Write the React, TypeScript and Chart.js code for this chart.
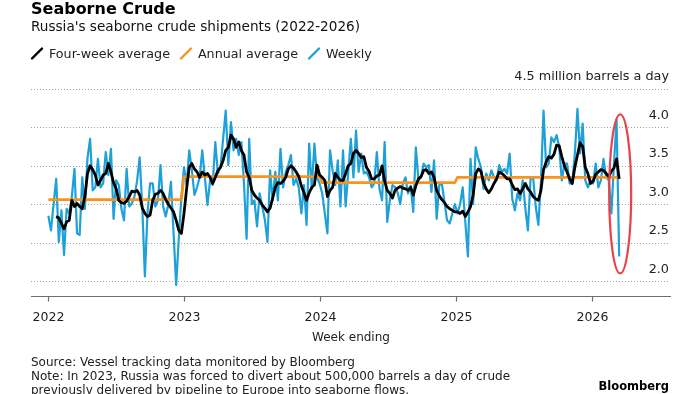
import React, { useEffect, useRef } from 'react';
import { Chart, registerables } from 'chart.js';

Chart.register(...registerables);

// ---- Data ----
const firstWeekEnding = { year: 2022, month: 0, day: 2 };
const years = [2022, 2023, 2024, 2025, 2026];
const annualAverage = [3.06, 3.36, 3.28, 3.35, 3.35];
const yTicks = [2.0, 2.5, 3.0, 3.5, 4.0];
const yTopTick = 4.5;
const unitLabel = '4.5 million barrels a day';

const weekly = [
  2.85, 2.66, 3.0, 3.33, 2.51, 2.92, 2.34, 2.94, 2.88, 3.1,
  3.46, 2.62, 2.6, 3.35, 2.94, 3.6, 3.85, 3.18, 3.22, 3.59,
  3.22, 3.27, 3.68, 3.38, 3.72, 2.81, 3.31, 3.25, 2.94, 2.79,
  3.46, 2.97, 3.01, 3.1, 3.3, 3.61, 2.97, 2.06, 2.88, 3.27,
  3.27, 2.97, 3.05, 3.51, 2.97, 2.84, 3.0, 3.29, 2.62, 1.95,
  2.55, 3.1, 3.48, 3.25, 3.7, 3.45, 3.12, 3.22, 3.35, 3.7,
  3.35, 2.99, 3.31, 3.25, 3.81, 3.4, 3.48, 3.85, 4.22, 3.51,
  4.07, 3.7, 3.85, 3.64, 3.81, 3.27, 2.55, 3.85, 3.0, 3.05,
  2.71, 3.14, 2.97, 2.8, 2.51, 3.44, 3.05, 3.42, 3.05, 3.72,
  3.22, 3.42, 3.51, 3.64, 3.25, 3.33, 3.22, 2.88, 3.25, 2.73,
  3.79, 3.2, 3.79, 3.35, 3.27, 3.14, 2.88, 2.62, 3.7, 3.44,
  3.25, 3.57, 2.97, 3.7, 2.97, 3.42, 3.85, 3.35, 3.96, 3.42,
  3.66, 3.4, 3.42, 3.35, 3.22, 3.27, 3.68, 3.2, 3.05, 3.81,
  2.77, 3.05, 3.25, 3.22, 3.15, 3.0, 3.27, 3.35, 3.14, 3.24,
  2.9, 3.74, 3.31, 3.35, 3.53, 3.48, 3.51, 3.16, 3.57, 2.81,
  3.25, 3.27, 3.03, 2.79, 2.75, 2.88, 3.0, 2.88, 3.0, 3.22,
  2.77, 2.32, 3.59, 3.0, 3.74, 3.59, 3.48, 3.2, 3.4, 3.31,
  3.44, 3.35, 3.31, 3.51, 3.42, 3.46, 3.4, 3.66, 3.07, 2.92,
  3.14, 3.05, 3.31, 2.95, 2.66, 3.33, 3.35, 2.97, 2.73, 3.29,
  4.22, 3.48, 3.53, 3.87, 3.81, 3.9, 3.75, 3.31, 3.53, 3.53,
  3.27, 3.27, 3.66, 4.24, 3.66, 4.05, 3.31, 3.22, 3.31, 3.27,
  3.53, 3.22, 3.31, 3.59, 3.35, 3.31, 2.88, 3.53, 4.1, 2.32,
];

const fourWeekAverage = [
  null, null, null, 2.84, 2.82, 2.75, 2.68, 2.77, 2.79, 3.05,
  2.97, 3.01, 2.97, 2.94, 3.1, 3.4, 3.5, 3.45, 3.38, 3.25,
  3.31, 3.38, 3.4, 3.53, 3.42, 3.28, 3.2, 3.05, 3.02, 3.01,
  3.04, 3.1, 3.17, 3.16, 3.18, 3.12, 2.95, 2.88, 2.84, 2.86,
  3.05, 3.13, 3.14, 3.18, 3.14, 3.06, 3.0, 2.95, 2.9, 2.79,
  2.66, 2.62, 2.88, 3.2, 3.48, 3.53, 3.46, 3.42, 3.35, 3.42,
  3.38, 3.4, 3.35, 3.27, 3.35, 3.44, 3.48, 3.57, 3.7, 3.74,
  3.9, 3.85, 3.74, 3.81, 3.7, 3.64, 3.42, 3.35, 3.18, 3.12,
  3.08, 3.05, 2.99, 2.95, 2.9, 2.95, 3.08, 3.22, 3.28, 3.27,
  3.3, 3.35, 3.46, 3.5, 3.47, 3.42, 3.36, 3.24, 3.15, 3.05,
  3.15, 3.22, 3.25, 3.51, 3.38, 3.35, 3.31, 3.1, 3.18, 3.22,
  3.4, 3.35, 3.31, 3.31, 3.4, 3.5, 3.53, 3.66, 3.7, 3.66,
  3.61, 3.62, 3.48, 3.43, 3.33, 3.33, 3.37, 3.38, 3.5, 3.3,
  3.18, 3.14, 3.08, 3.18, 3.21, 3.23, 3.21, 3.2, 3.18, 3.22,
  3.12, 3.24, 3.33, 3.36, 3.44, 3.45, 3.4, 3.42, 3.35, 3.18,
  3.11, 3.06, 3.02, 2.97, 2.94, 2.92, 2.9, 2.9, 2.88, 2.91,
  2.84, 2.9, 2.97, 3.12, 3.4, 3.46, 3.43, 3.28, 3.2, 3.15,
  3.2, 3.27, 3.33, 3.42, 3.4, 3.37, 3.33, 3.33, 3.25, 3.19,
  3.2, 3.14, 3.2, 3.27, 3.2, 3.16, 3.1, 3.07, 3.05, 3.18,
  3.45, 3.55, 3.62, 3.6, 3.65, 3.77, 3.76, 3.62, 3.5, 3.42,
  3.33, 3.27, 3.48, 3.64, 3.8, 3.75, 3.48, 3.4, 3.27, 3.3,
  3.39, 3.42, 3.45, 3.44, 3.4, 3.36, 3.43, 3.47, 3.59, 3.33,
];

const legendItems = [
  { label: 'Four-week average', color: '#000000' },
  { label: 'Annual average', color: '#f7931e' },
  { label: 'Weekly', color: '#1ea0d8' },
];

const titleText = 'Seaborne Crude';
const subtitleText = "Russia's seaborne crude shipments (2022-2026)";
const xTitle = 'Week ending';
const footerLines = [
  'Source: Vessel tracking data monitored by Bloomberg',
  'Note: In 2023, Russia was forced to divert about 500,000 barrels a day of crude',
  'previously delivered by pipeline to Europe into seaborne flows.',
];
const brand = 'Bloomberg';

// ---- helpers ----
function weekDate(i: number) {
  return new Date(firstWeekEnding.year, firstWeekEnding.month, firstWeekEnding.day + 7 * i);
}
function decimalYear(d: Date) {
  const y = d.getFullYear();
  const s = new Date(y, 0, 1).getTime();
  const e = new Date(y + 1, 0, 1).getTime();
  return y + (d.getTime() - s) / (e - s);
}

const FONT = '"DejaVu Sans", "Noto Sans", sans-serif';

const overlayPlugin = {
  id: 'overlay',
  beforeDatasetsDraw(chart: any) {
    const { ctx, chartArea, scales } = chart;
    const y = scales.y;
    ctx.save();
    ctx.strokeStyle = '#a0a0a0';
    ctx.lineWidth = 1;
    ctx.setLineDash([1, 2]);
    [...yTicks, yTopTick].forEach((v) => {
      const py = Math.round(y.getPixelForValue(v)) + 0.5;
      ctx.beginPath();
      ctx.moveTo(chartArea.left, py);
      ctx.lineTo(chartArea.right - 1, py);
      ctx.stroke();
    });
    ctx.restore();
  },
  afterDatasetsDraw(chart: any) {
    const { ctx, chartArea, scales } = chart;
    const x = scales.x;
    const y = scales.y;
    ctx.save();

    // x axis
    const axisY = Math.round(chartArea.bottom) + 0.5;
    ctx.strokeStyle = '#6e6e6e';
    ctx.lineWidth = 1.2;
    ctx.beginPath();
    ctx.moveTo(chartArea.left, axisY);
    ctx.lineTo(chartArea.right, axisY);
    ctx.stroke();
    ctx.fillStyle = '#222';
    ctx.font = `12.5px ${FONT}`;
    ctx.textAlign = 'center';
    ctx.textBaseline = 'alphabetic';
    years.forEach((yr) => {
      const px = Math.round(x.getPixelForValue(yr)) + 0.5;
      ctx.beginPath();
      ctx.moveTo(px, axisY);
      ctx.lineTo(px, axisY + 5);
      ctx.stroke();
      ctx.fillText(String(yr), px, 321);
    });
    ctx.font = `12px ${FONT}`;
    ctx.fillText(xTitle, (chartArea.left + chartArea.right) / 2, 341);

    // y labels (above gridlines, right side)
    ctx.textAlign = 'right';
    ctx.font = `12.8px ${FONT}`;
    yTicks.forEach((v) => {
      ctx.fillText(v.toFixed(1), chartArea.right - 2, y.getPixelForValue(v) - 8.5);
    });
    ctx.fillText(unitLabel, chartArea.right - 2, y.getPixelForValue(yTopTick) - 9.5);

    // title & subtitle
    ctx.textAlign = 'left';
    ctx.fillStyle = '#000';
    ctx.font = `bold 16px ${FONT}`;
    ctx.fillText(titleText, 31, 13.5);
    ctx.fillStyle = '#111';
    ctx.font = `13.6px ${FONT}`;
    ctx.fillText(subtitleText, 31, 31);

    // legend
    ctx.font = `12.7px ${FONT}`;
    let lx = 32;
    legendItems.forEach((it) => {
      ctx.strokeStyle = it.color;
      ctx.lineWidth = 2.4;
      ctx.lineCap = 'round';
      ctx.beginPath();
      ctx.moveTo(lx, 58.5);
      ctx.lineTo(lx + 10, 48.5);
      ctx.stroke();
      ctx.fillStyle = '#222';
      ctx.fillText(it.label, lx + 17, 57.5);
      lx += 17 + ctx.measureText(it.label).width + 11;
    });

    // footer
    ctx.fillStyle = '#222';
    ctx.font = `12px ${FONT}`;
    footerLines.forEach((line, i) => {
      ctx.fillText(line, 31, 366 + i * 14);
    });
    ctx.textAlign = 'right';
    ctx.fillStyle = '#000';
    ctx.font = `bold 11.5px ${FONT}`;
    ctx.fillText(brand, 669, 389.5);

    // highlight ellipse around the latest weeks
    const last = weekly.length - 1;
    const cx = x.getPixelForValue(decimalYear(weekDate(last)));
    const top = y.getPixelForValue(4.17);
    const bottom = y.getPixelForValue(2.1);
    ctx.strokeStyle = '#e8424b';
    ctx.lineWidth = 2.2;
    ctx.beginPath();
    ctx.ellipse(cx + 1, (top + bottom) / 2, 11, (bottom - top) / 2, 0, 0, Math.PI * 2);
    ctx.stroke();

    ctx.restore();
  },
};

export default function App() {
  const canvasRef = useRef<HTMLCanvasElement | null>(null);

  useEffect(() => {
    document.body.style.margin = '0';
    const canvas = canvasRef.current;
    if (!canvas) return;

    const xs = weekly.map((_, i) => decimalYear(weekDate(i)));
    const weeklyPts = weekly.map((v, i) => ({ x: xs[i], y: v }));
    const fourPts = fourWeekAverage.map((v, i) => ({ x: xs[i], y: v }));
    const annualPts = weekly.map((_, i) => {
      const yr = weekDate(i).getFullYear();
      return { x: xs[i], y: annualAverage[years.indexOf(yr)] };
    });

    const chart = new Chart(canvas, {
      type: 'line',
      data: {
        datasets: [
          {
            label: legendItems[0].label,
            data: fourPts,
            borderColor: legendItems[0].color,
            borderWidth: 2.8,
            pointRadius: 0,
            tension: 0,
            borderJoinStyle: 'round',
            spanGaps: false,
          },
          {
            label: legendItems[1].label,
            data: annualPts,
            borderColor: legendItems[1].color,
            borderWidth: 2.8,
            pointRadius: 0,
            tension: 0,
            borderJoinStyle: 'round',
          },
          {
            label: legendItems[2].label,
            data: weeklyPts,
            borderColor: legendItems[2].color,
            borderWidth: 2.2,
            pointRadius: 0,
            tension: 0,
            borderJoinStyle: 'round',
          },
        ],
      } as any,
      options: {
        responsive: false,
        animation: false,
        devicePixelRatio: 1,
        parsing: false,
        normalized: true,
        layout: { padding: { left: 31, right: 29, top: 89, bottom: 98 } },
        plugins: {
          legend: { display: false },
          tooltip: { enabled: false },
          title: { display: false },
        },
        scales: {
          x: { type: 'linear', display: false, min: 2021.875, max: 2026.581 },
          y: { type: 'linear', display: false, min: 1.805, max: 4.5 },
        },
      } as any,
      plugins: [overlayPlugin],
    });

    return () => chart.destroy();
  }, []);

  return (
    <div style={{ position: 'absolute', left: 0, top: 0, width: 700, height: 394, background: '#fff' }}>
      <canvas ref={canvasRef} width={700} height={394} style={{ display: 'block' }} />
    </div>
  );
}
